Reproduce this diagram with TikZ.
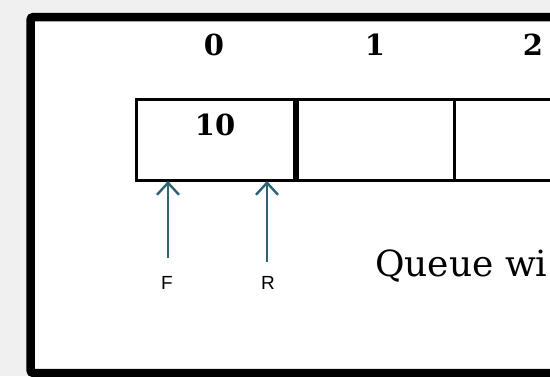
\documentclass[tikz,border=0pt]{standalone}
\usepackage{fontspec}
\setmainfont{DejaVu Serif}
\newfontfamily\lsans{Liberation Sans}
\usetikzlibrary{arrows.meta}
\definecolor{bgray}{HTML}{F0F0F0}
\definecolor{arrteal}{HTML}{2F6272}
\tikzset{
  idx/.style={font=\fontsize{29}{32}\selectfont\bfseries, inner sep=0pt},
  cellbox/.style={draw=black, line width=3pt, minimum width=158pt, minimum height=81pt, inner sep=0pt, anchor=north west},
  ptr/.style={draw=arrteal, line width=2.4pt, -{Straight Barb[length=12pt,width=22pt]}},
  ptrlab/.style={font=\lsans\fontsize{19}{21}\selectfont, inner sep=0pt},
}
\begin{document}
\begin{tikzpicture}[x=1pt,y=-1pt]
\useasboundingbox (0,0) rectangle (550,376);
\clip (0,0) rectangle (550,376);
\fill[bgray] (0,0) rectangle (550,376);
\draw[line width=8.5pt, fill=white, rounded corners=3pt] (30.5,17) rectangle (600,373);
% cells
\node[cellbox] (c0) at (135,98) {};
\node[cellbox] (c1) at (295,98) {};
\node[cellbox] (c2) at (453,98) {};
\draw[line width=5pt] (c0.north east) -- (c0.south east);
% indices
\node[idx] (i0) at (214,45) {0};
\node[idx] (i1) at (375,45) {1};
\node[idx] (i2) at (533,45) {2};
\node[idx] (v0) at (215,125) {10};
% pointers
\coordinate (fT) at (168,181);
\coordinate (rT) at (267,181);
\node[ptrlab] (F) at (167,283) {F};
\node[ptrlab] (R) at (268,283) {R};
\draw[ptr] (168,258) -- (fT);
\draw[ptr] (267,262) -- (rT);
% caption
\node[font=\fontsize{36}{40}\selectfont, anchor=base west, inner sep=0pt] (cap) at (375,276) {Queue wi};
\end{tikzpicture}
\end{document}
